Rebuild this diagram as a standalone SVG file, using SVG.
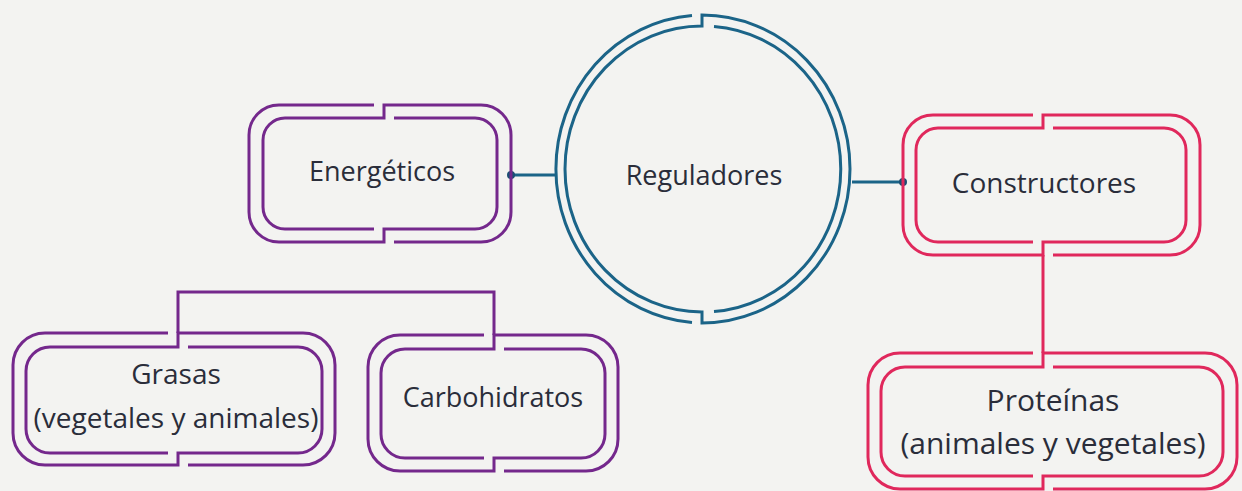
<svg xmlns="http://www.w3.org/2000/svg" width="1242" height="491" viewBox="0 0 1242 491">
<style>
.bg{fill:#f3f3f1}
.ln{fill:none;stroke-width:3;stroke-linejoin:miter;stroke-linecap:butt}
.pu{stroke:#74288c}
.bl{stroke:#1b6488}
.pk{stroke:#e0285c}
.t{font-family:"Open Sans","Noto Sans",sans-serif;font-size:27px;fill:#2a2d3a;text-anchor:middle}
.t28{font-size:28px}
.t30{font-size:30px}
.dot{fill:#1b4f73}
</style>
<rect class="bg" x="0" y="0" width="1242" height="491"/>
<g id="connectors">
<line class="ln bl" x1="511" y1="175" x2="556" y2="175"/>
<circle class="dot" cx="511" cy="175" r="4"/>
<line class="ln bl" x1="852" y1="182" x2="903" y2="182"/>
<circle class="dot" cx="903" cy="182" r="4"/>
<path class="ln pu" d="M178,333 V292 H494 V335"/>
<path class="ln pk" d="M1043,255 V353"/>
</g>
<g id="energeticos">
<path class="ln pu" d="M374,105 H279 A30 30 0 0 0 249,135 V212 A30 30 0 0 0 279,242 H384 V229 H475 A22 22 0 0 0 497,207 V140 A22 22 0 0 0 475,118 H394"/>
<path class="ln pu" d="M374,229 H285 A22 22 0 0 1 263,207 V140 A22 22 0 0 1 285,118 H384 V105 H481 A30 30 0 0 1 511,135 V212 A30 30 0 0 1 481,242 H394"/>
<text class="t" x="382" y="181">Energéticos</text>
</g>
<g id="reguladores">
<path class="ln bl" d="M702,26 A137 143 0 0 0 702,312 L702,323 A148 154 0 1 0 702,15 Z"/>
<path class="ln bl" d="M692,15.5 A148 154 0 0 0 692,322.5"/>
<path class="ln bl" d="M714,26.4 A137 143 0 0 1 714,311.6"/>
<text class="t" x="704" y="185">Reguladores</text>
</g>
<g id="constructores">
<path class="ln pk" d="M1033,115 H933 A30 30 0 0 0 903,145 V225 A30 30 0 0 0 933,255 H1043 V242 H1164 A22 22 0 0 0 1186,220 V150 A22 22 0 0 0 1164,128 H1053"/>
<path class="ln pk" d="M1033,242 H938 A22 22 0 0 1 916,220 V150 A22 22 0 0 1 938,128 H1043 V115 H1170 A30 30 0 0 1 1200,145 V225 A30 30 0 0 1 1170,255 H1053"/>
<text class="t t28" x="1044" y="193">Constructores</text>
</g>
<g id="proteinas">
<path class="ln pk" d="M1033,353 H900 A32 32 0 0 0 868,385 V457 A32 32 0 0 0 900,489 H1043 V476 H1199 A24 24 0 0 0 1223,452 V391 A24 24 0 0 0 1199,367 H1053"/>
<path class="ln pk" d="M1033,476 H905 A24 24 0 0 1 881,452 V391 A24 24 0 0 1 905,367 H1043 V353 H1205 A32 32 0 0 1 1237,385 V457 A32 32 0 0 1 1205,489 H1053"/>
<text class="t t30" x="1053" y="411">Proteínas</text>
<text class="t t30" x="1053" y="454">(animales y vegetales)</text>
</g>
<g id="grasas">
<path class="ln pu" d="M168,333 H45 A32 32 0 0 0 13,365 V433 A32 32 0 0 0 45,465 H178 V453 H298 A24 24 0 0 0 322,429 V371 A24 24 0 0 0 298,347 H188"/>
<path class="ln pu" d="M168,453 H50 A24 24 0 0 1 26,429 V371 A24 24 0 0 1 50,347 H178 V333 H303 A32 32 0 0 1 335,365 V433 A32 32 0 0 1 303,465 H188"/>
<text class="t t28" x="176" y="384">Grasas</text>
<text class="t t28" x="176" y="428">(vegetales y animales)</text>
</g>
<g id="carbohidratos">
<path class="ln pu" d="M484,335 H400 A32 32 0 0 0 368,367 V439 A32 32 0 0 0 400,471 H494 V458 H581 A24 24 0 0 0 605,434 V373 A24 24 0 0 0 581,349 H504"/>
<path class="ln pu" d="M484,458 H405 A24 24 0 0 1 381,434 V373 A24 24 0 0 1 405,349 H494 V335 H586 A32 32 0 0 1 618,367 V439 A32 32 0 0 1 586,471 H504"/>
<text class="t" x="493" y="407">Carbohidratos</text>
</g>
</svg>
